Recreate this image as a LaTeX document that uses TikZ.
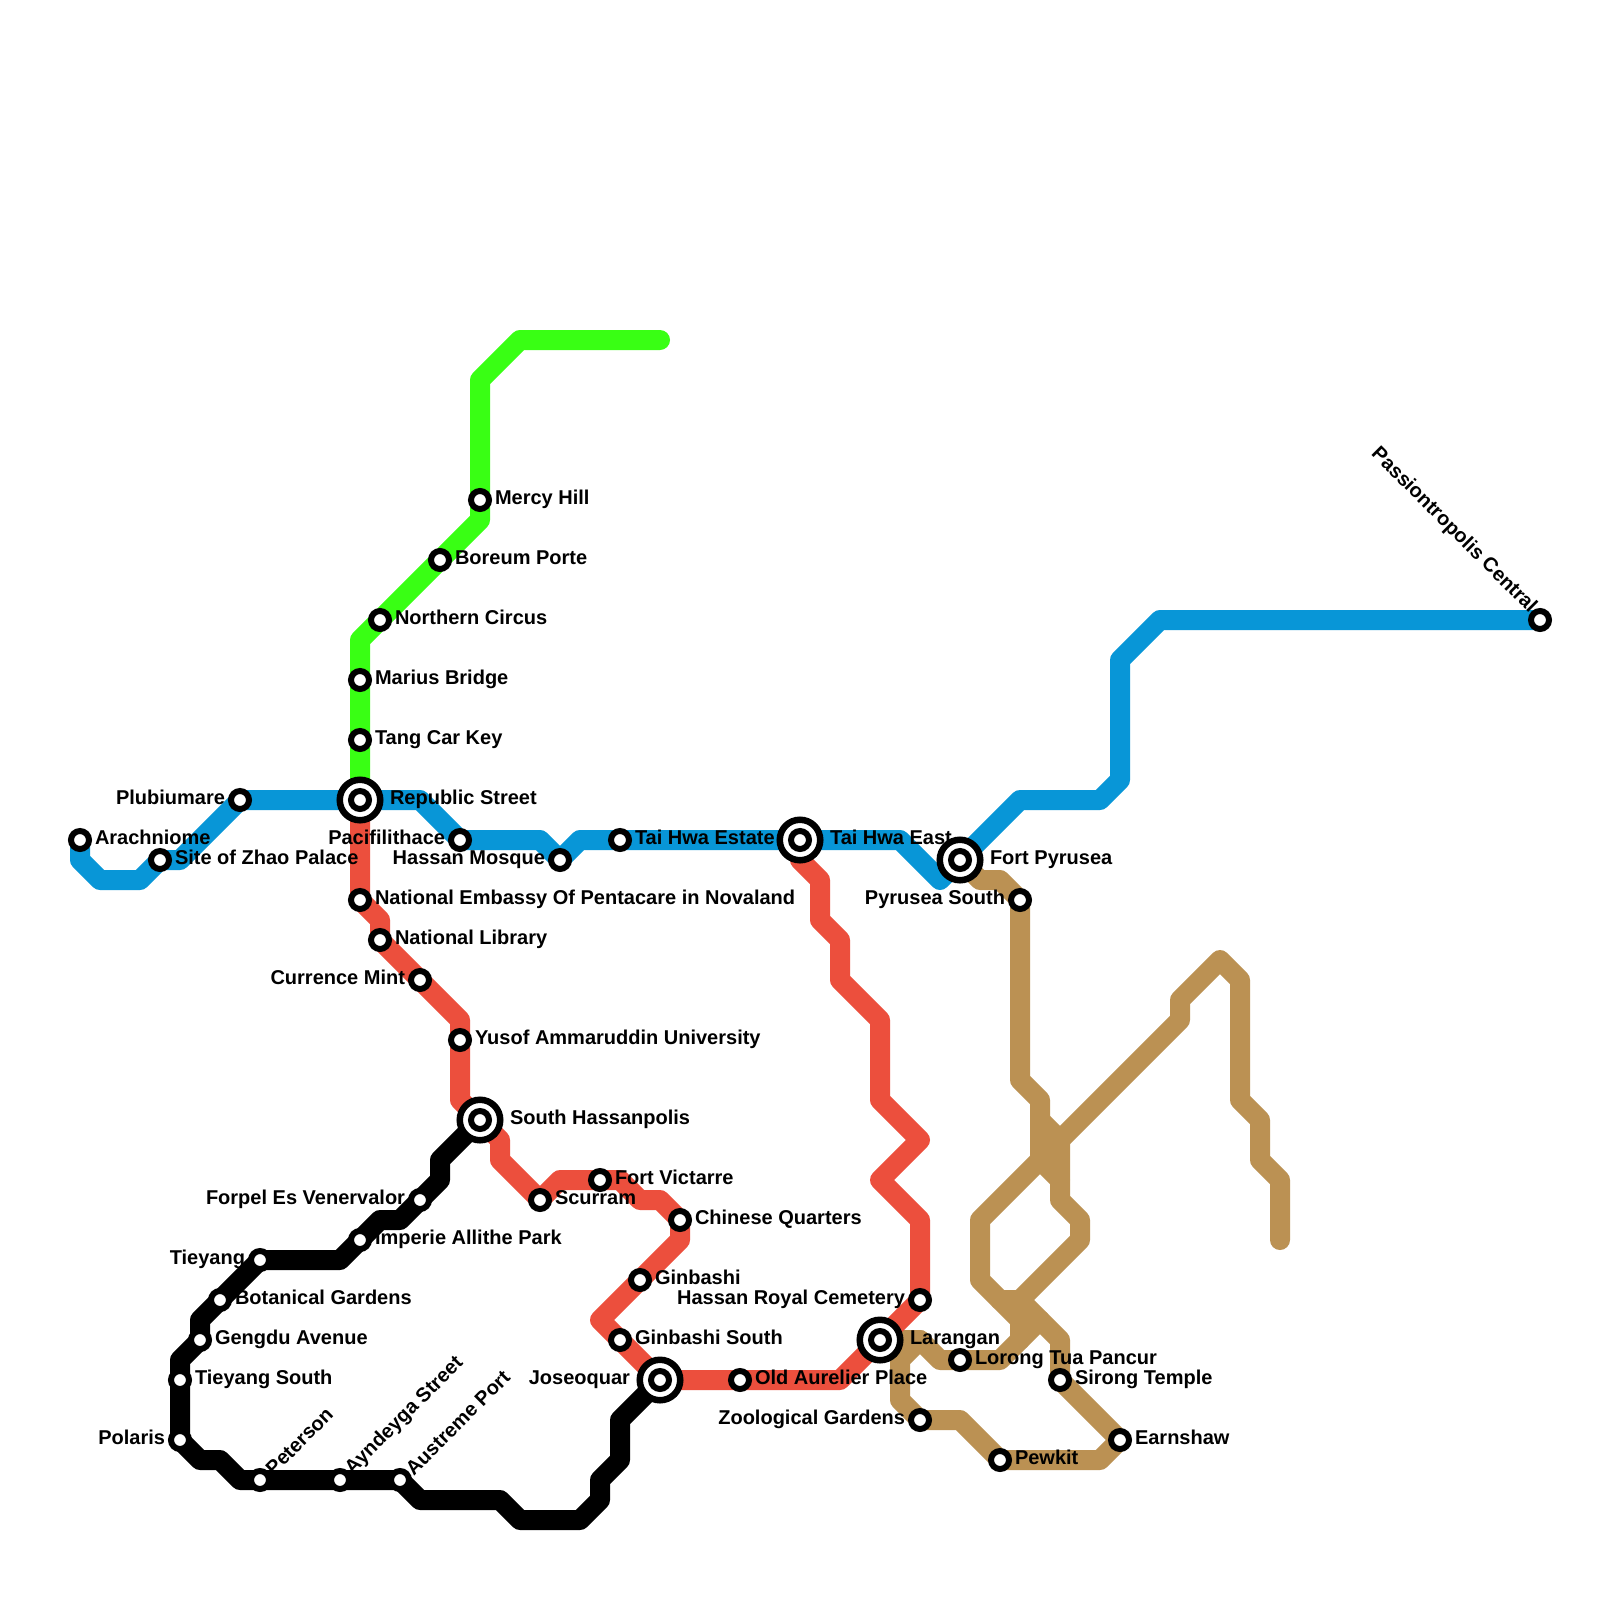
\documentclass[tikz,border=0pt]{standalone}
\usepackage{fontspec}
\setmainfont{Liberation Sans}
\definecolor{lblue}{HTML}{0896D7}
\definecolor{lred}{HTML}{EC4F3D}
\definecolor{ltan}{HTML}{BB9153}
\definecolor{lgreen}{HTML}{39FF14}
\tikzset{
  metro/.style={line width=20pt,line join=round,line cap=round},
  stn/.style={circle,draw=black,fill=white,line width=6pt,minimum size=18pt,inner sep=0pt,outer sep=0pt},
  hubouter/.style={circle,draw=black,fill=white,line width=6.5pt,minimum size=40.5pt,inner sep=0pt,outer sep=0pt},
  hubinner/.style={circle,draw=black,fill=white,line width=6pt,minimum size=18pt,inner sep=0pt,outer sep=0pt},
  lab/.style={font=\fontsize{20}{22}\selectfont\bfseries,inner sep=0pt,outer sep=0pt,text=black},
  labr/.style={lab,anchor=base west,xshift=15pt,yshift=-4.5pt},
  labl/.style={lab,anchor=base east,xshift=-15pt,yshift=-4.5pt},
  hubr/.style={lab,anchor=base west,xshift=30pt,yshift=-4.5pt},
  hubl/.style={lab,anchor=base east,xshift=-30pt,yshift=-4.5pt},
  labrot/.style={lab,anchor=west,rotate=45,xshift=12.4pt,yshift=-0.4pt},
}
\begin{document}
\begin{tikzpicture}[x=1pt,y=-1pt]
\useasboundingbox[fill=white] (0,0) rectangle (1600,1600);
% station positions
\coordinate (arach) at (80,840);
\coordinate (zhao) at (160,860);
\coordinate (plub) at (240,800);
\coordinate (rep) at (360,800);
\coordinate (paci) at (460,840);
\coordinate (hmos) at (560,860);
\coordinate (thest) at (620,840);
\coordinate (theast) at (800,840);
\coordinate (fort) at (960,860);
\coordinate (pass) at (1540,620);
\coordinate (tang) at (360,740);
\coordinate (mar) at (360,680);
\coordinate (nor) at (380,620);
\coordinate (bor) at (440,560);
\coordinate (mer) at (480,500);
\coordinate (emb) at (360,900);
\coordinate (nlib) at (380,940);
\coordinate (cur) at (420,980);
\coordinate (yus) at (460,1040);
\coordinate (shas) at (480,1120);
\coordinate (scu) at (540,1200);
\coordinate (fvi) at (600,1180);
\coordinate (chi) at (680,1220);
\coordinate (gin) at (640,1280);
\coordinate (gins) at (620,1340);
\coordinate (jos) at (660,1380);
\coordinate (old) at (740,1380);
\coordinate (lar) at (880,1340);
\coordinate (hrc) at (920,1300);
\coordinate (pys) at (1020,900);
\coordinate (lor) at (960,1360);
\coordinate (sir) at (1060,1380);
\coordinate (ear) at (1120,1440);
\coordinate (pew) at (1000,1460);
\coordinate (zoo) at (920,1420);
\coordinate (for) at (420,1200);
\coordinate (imp) at (360,1240);
\coordinate (tie) at (260,1260);
\coordinate (bot) at (220,1300);
\coordinate (gen) at (200,1340);
\coordinate (ties) at (180,1380);
\coordinate (pol) at (180,1440);
\coordinate (pet) at (260,1480);
\coordinate (ayn) at (340,1480);
\coordinate (aus) at (400,1480);
% lines
\draw[metro,ltan] (fort) -- (980,880) -- (1000,880) -- (pys) -- (1020,1080) -- (1040,1100) -- (1040,1160) -- (1060,1180) -- (1060,1200) -- (1080,1220) -- (1080,1240) -- (1020,1300) -- (1000,1300) -- (980,1280) -- (980,1220) -- (1040,1160) -- (1180,1020) -- (1180,1000) -- (1220,960) -- (1240,980) -- (1240,1100) -- (1260,1120) -- (1260,1160) -- (1280,1180) -- (1280,1240);
\draw[metro,ltan] (1040,1120) -- (1060,1140) -- (1060,1180);
\draw[metro,ltan] (lar) -- (920,1340) -- (940,1360) -- (lor) -- (1000,1360) -- (1040,1320);
\draw[metro,ltan] (1000,1300) -- (1020,1320) -- (1020,1340);
\draw[metro,ltan] (1020,1300) -- (1020,1320);
\draw[metro,ltan] (1020,1300) -- (1060,1340) -- (sir) -- (ear) -- (1100,1460) -- (pew) -- (960,1420) -- (zoo) -- (900,1400) -- (900,1360) -- (920,1340);
\draw[metro,lblue] (arach) -- (80,860) -- (100,880) -- (140,880) -- (zhao) -- (180,860) -- (plub) -- (rep) -- (420,800) -- (paci) -- (540,840) -- (hmos) -- (580,840) -- (thest) -- (theast) -- (900,840) -- (940,880) -- (fort) -- (1020,800) -- (1100,800) -- (1120,780) -- (1120,660) -- (1160,620) -- (pass);
\draw[metro,lgreen] (rep) -- (tang) -- (mar) -- (360,640) -- (nor) -- (bor) -- (480,520) -- (mer) -- (480,380) -- (520,340) -- (660,340);
\draw[metro,black] (shas) -- (440,1160) -- (440,1180) -- (for) -- (400,1220) -- (380,1220) -- (imp) -- (340,1260) -- (tie) -- (bot) -- (200,1320) -- (gen) -- (180,1360) -- (ties) -- (pol) -- (200,1460) -- (220,1460) -- (240,1480) -- (pet) -- (ayn) -- (aus) -- (420,1500) -- (500,1500) -- (520,1520) -- (580,1520) -- (600,1500) -- (600,1480) -- (620,1460) -- (620,1420) -- (jos);
\draw[metro,lred] (rep) -- (emb) -- (380,920) -- (nlib) -- (cur) -- (460,1020) -- (yus) -- (460,1100) -- (shas) -- (500,1140) -- (500,1160) -- (scu) -- (560,1180) -- (fvi) -- (620,1180) -- (640,1200) -- (660,1200) -- (chi) -- (680,1240) -- (gin) -- (600,1320) -- (gins) -- (jos) -- (old) -- (840,1380) -- (lar) -- (hrc) -- (920,1220) -- (880,1180) -- (920,1140) -- (880,1100) -- (880,1020) -- (840,980) -- (840,940) -- (820,920) -- (820,880) -- (800,860) -- (theast);
% stations
\foreach \c in {arach,zhao,plub,paci,hmos,thest,pass,tang,mar,nor,bor,mer,emb,nlib,cur,yus,scu,fvi,chi,gin,gins,old,hrc,pys,lor,sir,ear,pew,zoo,for,imp,tie,bot,gen,ties,pol,pet,ayn,aus}
  \node[stn] (n-\c) at (\c) {};
\foreach \c in {rep,theast,fort,shas,jos,lar}{
  \node[hubouter] (n-\c) at (\c) {};
  \node[hubinner] (m-\c) at (\c) {};
}
% labels
\node[labr] (l1) at (arach) {Arachniome};
\node[labr] (l2) at (zhao) {Site of Zhao Palace};
\node[labl] (l3) at (plub) {Plubiumare};
\node[hubr] (l4) at (rep) {Republic Street};
\node[labl] (l5) at (paci) {Pacifilithace};
\node[labl] (l6) at (hmos) {Hassan Mosque};
\node[labr] (l7) at (thest) {Tai Hwa Estate};
\node[hubr] (l8) at (theast) {Tai Hwa East};
\node[hubr] (l9) at (fort) {Fort Pyrusea};
\node[lab,anchor=east,rotate=-45] (l10) at (1533,610) {Passiontropolis Central};
\node[labr] (l11) at (tang) {Tang Car Key};
\node[labr] (l12) at (mar) {Marius Bridge};
\node[labr] (l13) at (nor) {Northern Circus};
\node[labr] (l14) at (bor) {Boreum Porte};
\node[labr] (l15) at (mer) {Mercy Hill};
\node[labr] (l16) at (emb) {National Embassy Of Pentacare in Novaland};
\node[labr] (l17) at (nlib) {National Library};
\node[labl] (l18) at (cur) {Currence Mint};
\node[labr] (l19) at (yus) {Yusof Ammaruddin University};
\node[hubr] (l20) at (shas) {South Hassanpolis};
\node[labr] (l21) at (scu) {Scurram};
\node[labr] (l22) at (fvi) {Fort Victarre};
\node[labr] (l23) at (chi) {Chinese Quarters};
\node[labr] (l24) at (gin) {Ginbashi};
\node[labr] (l25) at (gins) {Ginbashi South};
\node[hubl] (l26) at (jos) {Joseoquar};
\node[labr] (l27) at (old) {Old Aurelier Place};
\node[hubr] (l28) at (lar) {Larangan};
\node[labl] (l29) at (hrc) {Hassan Royal Cemetery};
\node[labl] (l30) at (pys) {Pyrusea South};
\node[labr] (l31) at (lor) {Lorong Tua Pancur};
\node[labr] (l32) at (sir) {Sirong Temple};
\node[labr] (l33) at (ear) {Earnshaw};
\node[labr] (l34) at (pew) {Pewkit};
\node[labl] (l35) at (zoo) {Zoological Gardens};
\node[labl] (l36) at (for) {Forpel Es Venervalor};
\node[labr] (l37) at (imp) {Imperie Allithe Park};
\node[labl] (l38) at (tie) {Tieyang};
\node[labr] (l39) at (bot) {Botanical Gardens};
\node[labr] (l40) at (gen) {Gengdu Avenue};
\node[labr] (l41) at (ties) {Tieyang South};
\node[labl] (l42) at (pol) {Polaris};
\node[labrot] (l43) at (pet) {Peterson};
\node[labrot] (l44) at (ayn) {Ayndeyga Street};
\node[labrot] (l45) at (aus) {Austreme Port};
\end{tikzpicture}
\end{document}
